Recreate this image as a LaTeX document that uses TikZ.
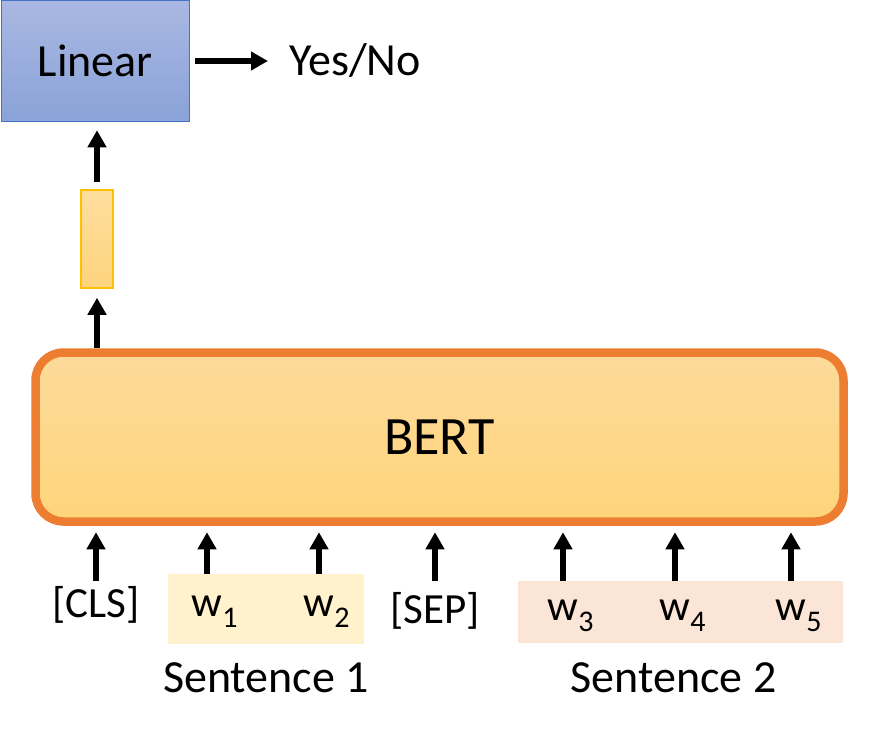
\documentclass[tikz,border=0pt]{standalone}
\usepackage{fontspec}
\setmainfont{Carlito}
\usepackage{xcolor}
\usetikzlibrary{arrows.meta}
\definecolor{linearborder}{RGB}{68,114,196}
\definecolor{lineartop}{RGB}{169,184,226}
\definecolor{linearbottom}{RGB}{138,162,216}
\definecolor{bertborder}{RGB}{237,125,49}
\definecolor{berttop}{RGB}{253,218,154}
\definecolor{bertbottom}{RGB}{254,213,123}
\definecolor{vecborder}{RGB}{255,192,0}
\definecolor{vectop}{RGB}{254,222,158}
\definecolor{vecbottom}{RGB}{253,211,125}
\definecolor{sentonecolor}{RGB}{255,242,204}
\definecolor{senttwocolor}{RGB}{251,229,214}

% word token with a low subscript that takes no width
\newcommand{\wtok}[1]{w\rlap{\raisebox{-11pt}{\fontsize{30}{30}\selectfont #1}}}

\tikzset{
    arr/.style={line width=6pt,-{Triangle[length=17pt,width=18pt]}},
    tok/.style={inner sep=0pt,anchor=base,font=\fontsize{43}{46}\selectfont},
    sentlabel/.style={inner sep=0pt,anchor=base,font=\fontsize{46}{50}\selectfont},
    sentbox/.style={inner sep=0pt,draw=none}
}

\begin{document}
\begin{tikzpicture}[x=1pt,y=-1pt]
        \useasboundingbox (0,0) rectangle (878,734);
        % Sentence backgrounds
        \node[sentbox,fill=sentonecolor,minimum width=196pt,minimum height=70pt] (s1) at (266,609) {};
        \node[sentbox,fill=senttwocolor,minimum width=325pt,minimum height=62pt] (s2) at (680.5,612) {};
        % Encoder and classifier
        \node[draw=bertborder,line width=8.5pt,rounded corners=28pt,top color=berttop,bottom color=bertbottom,
            minimum width=808pt,minimum height=169pt,font=\fontsize{54}{58}\selectfont] (bert) at (439.5,437) {BERT};
        \node[draw=vecborder,line width=1.5pt,top color=vectop,bottom color=vecbottom,
            minimum width=32pt,minimum height=98pt,inner sep=0pt] (vec) at (97,239) {};
        \node[draw=linearborder,line width=1.5pt,top color=lineartop,bottom color=linearbottom,
            minimum width=188pt,minimum height=121pt,font=\fontsize{46}{50}\selectfont] (linear) at (95.5,61) {Linear};
        \node[sentlabel,anchor=base west] (yesno) at (289,75) {Yes/No};
        % Input tokens
        \node[tok] (cls) at (96,617) {[CLS]};
        \node[tok] (w1) at (207,616) {\wtok{1}};
        \node[tok] (w2) at (319,616) {\wtok{2}};
        \node[tok] (sep) at (435,623) {[SEP]};
        \node[tok] (w3) at (563,620) {\wtok{3}};
        \node[tok] (w4) at (675,620) {\wtok{4}};
        \node[tok] (w5) at (791,620) {\wtok{5}};
        \node[sentlabel] (sent1) at (266,692) {Sentence 1};
        \node[sentlabel] (sent2) at (673.5,692) {Sentence 2};
        % Arrows into BERT
        \foreach \t in {cls,sep,w3,w4,w5}
            \draw[arr,shorten >=6.5pt] (\t |- s2.north) -- (\t |- bert.south);
        \foreach \t in {w1,w2}
            \draw[arr,shorten >=6.5pt] (\t |- s1.north) -- (\t |- bert.south);
        % Arrows to the output
        \draw[arr,shorten >=9pt] (bert.north -| vec) -- (vec.south);
        \draw[arr,shorten <=7pt,shorten >=8pt] (vec.north) -- (linear.south -| vec);
        \draw[arr,shorten <=5pt,shorten >=21pt] (linear.east) -- (linear.east -| yesno.west);
    \end{tikzpicture}
\end{document}
